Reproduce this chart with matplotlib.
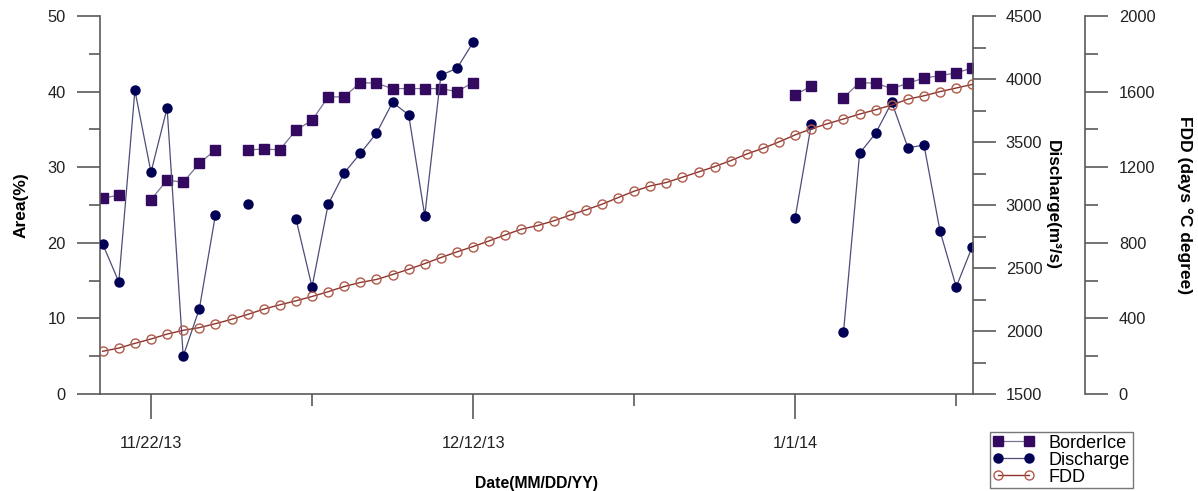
import numpy as np
import pandas as pd
import matplotlib
matplotlib.use('Agg')
import matplotlib.pyplot as plt
import matplotlib.dates as mdates
from matplotlib.ticker import MultipleLocator, FuncFormatter, FixedLocator

plt.rcParams['font.family'] = ['Liberation Sans', 'DejaVu Sans']

# daily dates 11/19/13 .. 1/12/14
dates = pd.date_range('2013-11-19', '2014-01-12', freq='D')
nan = np.nan

# border ice area (%)
border_ice = [25.9, 26.3, nan, 25.7, 28.3, 28.0, 30.5, 32.3, nan, 32.3,
              32.4, 32.3, 34.9, 36.2, 39.3, 39.3, 41.2, 41.1, 40.4, 40.4,
              40.4, 40.4, 40.0, 41.2,
              nan, nan, nan, nan, nan, nan, nan, nan, nan, nan,
              nan, nan, nan, nan, nan, nan, nan, nan, nan,
              39.6, 40.7, nan, 39.2, 41.2, 41.1, 40.4, 41.1, 41.8, 42.1,
              42.5, 43.1]

# discharge (m3/s)
discharge = [2690, 2390, 3910, 3260, 3770, 1800, 2175, 2920, nan, 3005,
             nan, nan, 2890, 2350, 3005, 3255, 3410, 3570, 3815, 3715,
             2915, 4030, 4085, 4290,
             nan, nan, nan, nan, nan, nan, nan, nan, nan, nan,
             nan, nan, nan, nan, nan, nan, nan, nan, nan,
             2900, 3640, nan, 1990, 3410, 3570, 3815, 3455, 3475, 2790,
             2350, 2670]

# freezing degree days
fdd = [226, 243, 268, 291, 317, 337, 351, 372, 395, 421,
       449, 472, 493, 516, 541, 569, 590, 606, 632, 660,
       690, 722, 752, 780,
       810, 842, 872, 891, 916, 946, 974, 1004, 1039, 1073,
       1101, 1119, 1147, 1175, 1203, 1235, 1270, 1300, 1334,
       1371, 1403, 1430, 1455, 1481, 1504, 1529, 1560, 1578, 1600,
       1619, 1638]

labeled_days = ['2013-11-22', '2013-12-12', '2014-01-01']
other_days = ['2013-12-02', '2013-12-22', '2014-01-11']

axis_col = '#5a5a5a'
W, H = 1198, 491
fig = plt.figure(figsize=(W / 100, H / 100), dpi=100)
ax = fig.add_axes([100 / W, 1 - 394 / H, 873 / W, 378 / H])
ax2 = ax.twinx()
ax3 = ax.twinx()

ax.plot(dates, border_ice, '-s', color='#7c7394', lw=0.9, ms=6.5,
        mfc='#330a60', mec='#330a60', label='BorderIce')
ax2.plot(dates, discharge, '-o', color='#4d4d7a', lw=0.9, ms=6.5,
         mfc='#000055', mec='#000055', label='Discharge')
ax3.plot(dates, fdd, '-o', color='#8a3530', lw=1.0, ms=6.5,
         mfc='none', mec='#b05a4a', mew=1.0, label='FDD')

ax.set_xlim(pd.Timestamp('2013-11-18 20:00'), pd.Timestamp('2014-01-12 01:00'))
ax.set_ylim(0, 50)
ax2.set_ylim(1500, 4500)
ax3.set_ylim(0, 2000)

# x axis
ax.xaxis.set_major_locator(FixedLocator(mdates.date2num(pd.to_datetime(labeled_days))))
ax.xaxis.set_minor_locator(FixedLocator(mdates.date2num(pd.to_datetime(other_days))))
ax.xaxis.set_major_formatter(FuncFormatter(
    lambda v, p: '{d.month}/{d.day}/{y}'.format(d=mdates.num2date(v), y=mdates.num2date(v).strftime('%y'))))

ax.yaxis.set_major_locator(MultipleLocator(10))
ax.yaxis.set_minor_locator(MultipleLocator(5))
ax2.yaxis.set_major_locator(MultipleLocator(500))
ax2.yaxis.set_minor_locator(MultipleLocator(250))
ax3.yaxis.set_major_locator(MultipleLocator(400))
ax3.yaxis.set_minor_locator(MultipleLocator(200))

for a in (ax, ax2, ax3):
    for s in a.spines.values():
        s.set_visible(False)
        s.set_color(axis_col)
        s.set_linewidth(1.2)
ax.spines['left'].set_visible(True)
ax.spines['bottom'].set_visible(True)
ax2.spines['right'].set_visible(True)
ax3.spines['right'].set_visible(True)
ax3.spines['right'].set_position(('outward', 80.5))

ax.tick_params(axis='x', which='major', direction='out', length=18, width=1.2,
               color=axis_col, pad=12, labelsize=11.8, labelcolor='#222222')
ax.tick_params(axis='x', which='minor', direction='out', length=8.5, width=1.2, color=axis_col)
ax.tick_params(axis='y', which='major', direction='out', length=16.5, width=1.2,
               color=axis_col, pad=8, labelsize=11.8, labelcolor='#222222')
ax.tick_params(axis='y', which='minor', direction='out', length=8, width=1.2, color=axis_col)
for a, pad in ((ax2, 7), (ax3, 8)):
    a.tick_params(axis='y', which='major', direction='out', length=16.5, width=1.2,
                  color=axis_col, pad=pad, labelsize=11.8, labelcolor='#222222')
    a.tick_params(axis='y', which='minor', direction='out', length=9, width=1.2, color=axis_col)

ax.set_xlabel('Date(MM/DD/YY)', fontsize=11.3, fontweight='bold', labelpad=18)
ax.set_ylabel('Area(%)', fontsize=12.5, fontweight='bold', labelpad=14)
ax2.set_ylabel('Discharge(m³/s)', fontsize=12.3, fontweight='bold',
               rotation=270, labelpad=13)
ax3.set_ylabel('FDD (days °C degree)', fontsize=12.5, fontweight='bold',
               rotation=270, labelpad=27)

handles = [ax.lines[0], ax2.lines[0], ax3.lines[0]]
leg = fig.legend(handles, [h.get_label() for h in handles],
                 loc='upper left', bbox_to_anchor=(990 / W, 1 - 432 / H),
                 fontsize=13, frameon=True, fancybox=False, framealpha=1,
                 edgecolor='#777777', borderpad=0.15, labelspacing=0.0,
                 handlelength=2.3, handletextpad=0.8, borderaxespad=0,
                 numpoints=2)
leg.get_frame().set_linewidth(1.0)

fig.savefig('out.png', dpi=100)
